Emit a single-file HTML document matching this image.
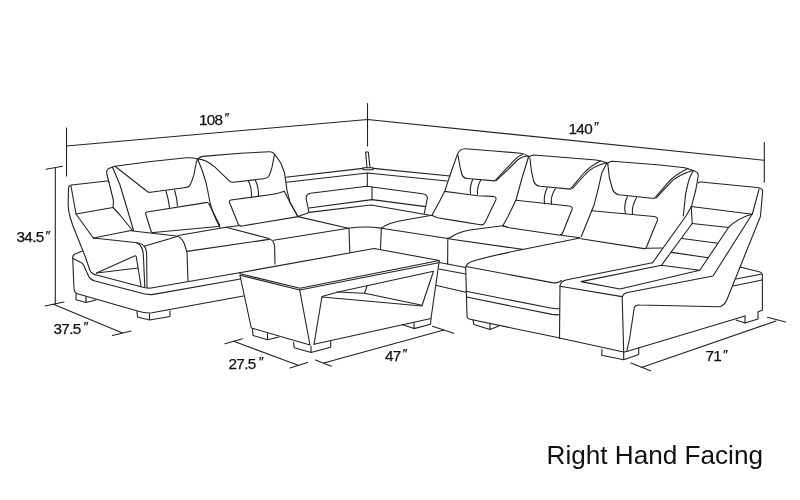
<!DOCTYPE html>
<html><head><meta charset="utf-8">
<style>
html,body{margin:0;padding:0;background:#fff;}
body{width:800px;height:500px;overflow:hidden;position:relative;}
svg{position:absolute;left:0;top:0;display:block;}
text{font-family:"Liberation Sans",sans-serif;fill:#111;stroke:none;}
.d{font-size:15.3px;letter-spacing:-0.65px;stroke:#111;stroke-width:0.25px;}
.p{font-style:italic;font-size:13.5px;}
svg{will-change:transform;}
</style></head><body>
<svg width="800" height="500" viewBox="0 0 800 500">
<rect width="800" height="500" fill="#fff"/>
<g fill="none" stroke="#222" stroke-width="1.1" stroke-linecap="round" stroke-linejoin="round">
<!-- DIMENSIONS -->
<g id="dims">
<path d="M66.5,128 L66.5,176"/>
<path d="M66.5,146 L367.5,119.5 L764.2,160.2"/>
<path d="M367.5,103.5 L367.5,146"/>
<path d="M764.3,142.5 L764.3,182.3"/>
<path d="M55.3,168 L55.3,304"/>
<path d="M46,169.3 L62.5,166.3"/>
<path d="M45,306 L64,302"/>
<path d="M54,304.5 L122.5,333"/>
<path d="M112.5,335.5 L131,331"/>
<path d="M225,343.8 L242.5,338.8"/>
<path d="M233.8,341.3 L298.8,365.5"/>
<path d="M290,368 L307.5,362.5"/>
<path d="M315.5,360 L331.3,366.3"/>
<path d="M323.8,363 L443.8,330"/>
<path d="M432.5,326.3 L453.8,333.3"/>
<path d="M641.4,367.6 L776,321"/>
<path d="M631,363 L650.5,370.7"/>
<path d="M767.5,317.3 L785.5,322"/>
</g>
<!-- LEFT ARM -->
<g id="leftarm">
<path d="M109,182.5 Q108.5,180.8 107,181 L71.5,185 Q68.3,185.5 68.5,188.5 L68.2,205 Q68.3,211 70,216.5 L72.6,225 L85.2,256.5 L90,270.5 Q91.5,274.3 97.5,275.3 L141,286.8 Q148,289 154,287.5 L239.5,272.8"/>
<path d="M71,186 L76,214 L93.4,238.2"/>
<path d="M76,214 L113,207.5"/>
<path d="M93.4,238 L131,230.5"/>
<path d="M93.4,238 L137.5,242.7 Q146,244 146.6,253 L147,287"/>
<path d="M137,243 Q142.5,245.5 143.3,254 L144.8,287"/>
<path d="M131,230.8 L176,236 Q181,236.5 184,243 L187,252 L188,281"/>
<path d="M145,246 L178,236.3"/>
<path d="M96.5,273 L134.5,256 Q136,255.3 136.3,257 L141,286"/>
<path d="M96.5,273 L138,268"/>
<path d="M82.5,251 L75,254 Q72.5,255 72.7,258 L74,289 Q74.2,292 76.5,293.5 L137.5,311 Q146,313.5 152,312.8 L243.5,296"/>
<path d="M73,258.5 L81,262.5 Q83,263.5 84,266 L88.5,276 Q90,279.5 95,281 L138,292.3 Q146,294.8 152,294.6 L240.5,279"/>
<path d="M76,294 L76,299.8 L86,302.5 L96,300 M86,296.5 L86,302.5"/>
<path d="M137,311.5 L137.5,317 L149.5,320 L170,316.5 L170,311 M149.5,314 L149.5,320"/>
</g>
<!-- BACKREST 1 -->
<g id="back1">
<path d="M132.5,230.5 L120,215 L113,207.5 Q113.8,203 113.3,200 L109,182.5 L106.8,174 Q105.8,169.5 110,168 L115,166.3 Q150,161.2 186.5,157.8 Q193,157.6 197.6,159 L202.6,171.5 L206.4,184 L210.2,203.5 Q213,214 220,227.5"/>
<path d="M112.5,167.3 L120,185 L126,205 L130.5,220 L133.5,230.5"/>
<path d="M115,166.3 L146.3,190.8 Q148,192.6 150.5,192.3 L184,187.8 Q188.5,187.2 190,185.3 Q192.5,180 193.8,175.2 L196.2,163 L197.4,159.2"/>
<path d="M166,191 Q168.5,199 169.5,207.5"/>
<path d="M174.5,190 Q177,198 177.5,206"/>
<path d="M147,212 Q145,212.8 145.8,214.5 L151,231 Q151.5,233 153.5,232.5 L218,226.5 Q220,226 219.5,225 L209,204 Q208,202.3 206,202.6 Z"/>
</g>
<!-- BACKREST 2 -->
<g id="back2">
<path d="M197.8,158.9 Q199.5,157.2 202.6,156.4 L240.4,153.3 L269.3,151.7 Q272.5,151.6 274.4,153.9 L280.7,162.7 L284.5,172.7 L287,190.4 L290,202.5 L296.5,214.3 L298,216.6"/>
<path d="M197.8,158.9 Q206,159.5 215.2,167.3 L229.3,180.8 Q231,182.5 233.5,182.2 L263.5,178.7 Q267.5,178.2 268.7,176.5 Q270.8,172 271.9,167.7 L274.4,155"/>
<path d="M248.4,180.8 Q251.8,188 251.5,197"/>
<path d="M255.3,180 Q258.8,187.5 258.5,196"/>
<path d="M231,200 Q228.8,200.6 229.6,202.7 L238.3,224.3 Q239.3,226.5 242,226 L298,216.6 L289.5,201.4 L284.3,191.3 Q278,193.6 271.7,194.5 L231,200"/>
</g>
<!-- SEATS LEFT -->
<g id="seatsL">
<path d="M178,235.5 L226,227.2"/>
<path d="M187,251.4 L269,239.4"/>
<path d="M226,227.2 L268,238.3 Q274,240 274.6,246 L275,264"/>
<path d="M226,227.2 L240,225.5"/>
<path d="M273.5,240.2 L348.3,228.3"/>
<path d="M298,216.6 L348.3,228.2"/>
<path d="M349,228.4 L349.8,252.5"/>
</g>
<!-- BACK FRAME + SHELF -->
<g id="corner">
<path d="M285.7,177.2 L363,168.4"/>
<path d="M373,168.4 L450,176"/>
<path d="M286.4,182.2 L367.3,173 L447,181"/>
<path d="M367.3,173 L367.3,186.5"/>
<path d="M365.6,152 L367,167.5 M368.3,152 L370,167.5 M365.6,152 L368.3,152"/>
<path d="M363,167.8 L373,167.8 L373,169.8 L363,169.8 Z"/>
<path d="M309,212.4 L306.3,199.5 Q305.3,194.3 310.5,193.3 L367,186.3 L372,187 L422.5,193.7 Q427.8,194.6 427.3,198.5 L424.3,213.3"/>
<path d="M372,187 L372,199.6"/>
<path d="M309,208 L372,199.6 L425.6,206.6"/>
<path d="M298,216.6 L309,212.4 L371,205 L430,215.3"/>
<path d="M348.3,228.2 Q365,225.9 381.3,228.1 Q385,225.5 390,223.5 Q397,221.3 405,220 L432,215.2"/>
<path d="M381.3,228.5 L380.5,249.5"/>
</g>
<!-- BACKREST 3 -->
<g id="back3">
<path d="M432,215.2 L440,200.5 L445,190.4 L451.3,171.5 L457.4,154.4 Q459.5,148.6 465.5,148.7 L500,151.5 L520.6,153.2 Q525.5,153.8 528.5,156.6"/>
<path d="M457.8,154.5 L460.2,167.7 L461.8,174 Q462.8,178 467.5,178.5 L494.8,180.9 L505.5,169.6 L515.6,158.9 Q518.5,156 522.3,154.4"/>
<path d="M496.2,180.6 L508,169.6 L518.1,159.5 Q522,156.5 528.2,155.8"/>
<path d="M472.7,179.5 Q469.5,187 470.5,193.5"/>
<path d="M480.7,180.3 Q476.8,187 477.5,194.3"/>
<path d="M444.5,191.4 L462.8,193.8 L477.9,195.7 L492.5,196.4 Q497.2,196.8 495.8,200 L485,222.5 Q483.6,225.3 480.5,224.8 L456.5,220.9 L437.6,217.7 Q433.5,216.8 432,215.2"/>
<path d="M528.5,157 L522,178 L516,200 L508,216.5 L503,225.6"/>
</g>
<!-- BACKREST 4 -->
<g id="back4">
<path d="M529,157.5 Q530.5,155 534,155 L596,160 Q603,160.8 607,163"/>
<path d="M530,158.5 L531.3,170.2 L533.5,180.5 Q534.8,185.6 540,186.3 L570.4,189.1 L583,174 Q590,166 600.5,161"/>
<path d="M572.5,188.5 L585.5,174 Q593,166 606.5,162.7"/>
<path d="M547.1,188 Q543.3,196 544.6,203.6"/>
<path d="M555.3,188.8 Q550.2,197 551.5,204.2"/>
<path d="M516,200.2 L569,206 Q573,206.5 572,209.5 L563,232 Q562,235.5 558.5,235 L509,227.8 Q505,227 503,225.6"/>
<path d="M607,162.8 L601.9,172.7 L598.1,189.1 L594.3,204.2 L588,220 L581.3,236.5"/>
</g>
<!-- BACKREST 5 -->
<g id="back5">
<path d="M607.3,164 Q608.5,161.5 612.5,161.2 L660,165 L684.8,167.7 L694.5,171 Q698.5,172.5 698.3,175.5 L696,189 L691.5,206.3 L686,216 L652.5,262.8"/>
<path d="M693.2,170.8 Q689.5,177 688.2,182.7 L685.6,194.1 L683.3,216"/>
<path d="M607.8,164 L609.4,177.7 L612,187.5 Q613.5,193.8 619,194.8 L654.2,198.5 L668,182.7 Q674,175.5 688.2,168.3"/>
<path d="M656,198 L670.5,182.7 Q677,175.5 693.2,170.3"/>
<path d="M627.3,196.8 Q623.5,205 625.3,213.5"/>
<path d="M636.5,197.7 Q631.5,206 632.5,214"/>
<path d="M591.8,210.8 L654,216.5 Q658.5,217.2 657.3,220.5 L646.5,247 Q646,249 644,248.6 L581,238.8"/>
<path d="M646.5,248.3 L662,248"/>
</g>
<!-- RIGHT ARM -->
<g id="rightarm">
<path d="M698.3,183 Q699,181.8 701,182 L757,187.5 Q762.5,188.3 762.7,191 L760.5,216 L760,217.5 L727,299.5 Q724,306.6 718.5,306.8 L640,305 Q635,304.6 634.2,308 L629.7,338 L626.7,351.5"/>
<path d="M759,189.3 L752.5,213.5 L713,276 L627.5,292.5 Q622.5,293.5 622.2,298 L623.7,352"/>
<path d="M752.3,214 Q737,218.5 728.5,227.5 L699.8,270.3"/>
<path d="M691.2,206.5 L752.3,214.2"/>
<path d="M691.2,206.5 L692.2,223.5 L661.4,265.3 L699.8,270.3 L620,289 L581,281.6 L661.4,265.3"/>
<path d="M692.2,223.5 L728.5,227.5"/>
<path d="M682,238.5 L717.7,243.3"/>
<path d="M671.3,252.4 L708.4,257.7"/>
<path d="M652.5,262.8 L566,280 Q560,281.5 560,286.5 L559.5,338"/>
<path d="M560,286.2 L622,296.6"/>
<path d="M559.5,338 L623.7,352 L626.7,351.5"/>
<path d="M602,349.2 L601.7,355.2 L623.7,359.7 L638.7,354.5 L638.7,348 M623.7,352 L623.7,359.7"/>
<path d="M626.7,351.5 L745,316"/>
<path d="M740,267 L760,272 Q762.3,272.6 762.4,275 L762.4,310 L758,312 L758,319 L745,323 L736,320 M745,316 L745,323"/>
<path d="M736,279 L762,274"/>
<path d="M733,286 L762,280"/>
</g>
<!-- SEATS RIGHT + CHAISE -->
<g id="seatsR">
<path d="M381.5,228.2 L446,238.3 Q449.5,238.8 452,236.5 Q458,232.3 470,230 L502.5,225.8"/>
<path d="M447.8,239.5 L447.6,264"/>
<path d="M448.2,238.7 L522.5,249.4"/>
<path d="M502.5,226 L507,226.8 M561,235.2 L580,237.7"/>
<path d="M580,238 L522.5,249.5 Q490,256 472,261.5 Q466,263.5 465.7,268 L467,316 Q467.2,318.8 470,319.3 L557.5,337.5 L559.5,338"/>
<path d="M466,266.5 L552,282.6 Q556.5,283.3 559,282 L561.5,280.6"/>
<path d="M466,291.3 L552,308.3 Q556,309 559.3,308.5"/>
<path d="M466.5,297 L552,314.4 Q556,315.1 559.3,314.7"/>
<path d="M473,319.8 L473.8,324.5 L490,329.5 L498.8,326 M490,323.8 L490,329.5"/>
<path d="M439.5,262.5 L465.5,267.5"/>
<path d="M439,269 L465.7,274"/>
<path d="M436.5,285.5 L466,292.2"/>
</g>
<!-- TABLE -->
<g id="table">
<path d="M239.5,272.8 L374,248.5 L439.3,260.5 L300,288.3 L240,273.8"/>
<path d="M240,275.2 L299.7,290 L438.7,262.8"/>
<path d="M240,275.5 L251.3,328 L310,345 L299.7,290"/>
<path d="M314,344.3 L322,296.5 L337,292.3 L433.5,271.3 L422,305.5"/>
<path d="M439.3,260.5 L431,318.5 L314,344.3"/>
<path d="M322,297 L422,306"/>
<path d="M337,292 L364,293.3"/>
<path d="M367,286 L364.5,293.3 L421,305"/>
<path d="M252.5,329.5 L253,335.5 L267.5,339.8 L279,337 M267.5,333.8 L267.5,339.8"/>
<path d="M293.5,342.3 L294.3,347.8 L311,352.5 L330.7,347.3 L330.7,341.5 M311,346.2 L311,352.5"/>
<path d="M402,324.5 L414,328.6 L430.5,324.3 L431,318.7 M414,322.5 L414,328.6"/>
</g>
</g>
<text class="d" x="16.5" y="242.3">34.5<tspan class="p" dx="1.4" dy="-2.6">″</tspan></text>
<text class="d" x="198.9" y="124.8">108<tspan class="p" dx="1.4" dy="-2.6">″</tspan></text>
<text class="d" x="568.5" y="133.7">140<tspan class="p" dx="1.4" dy="-2.6">″</tspan></text>
<text class="d" x="53.5" y="334">37.5<tspan class="p" dx="2.4" dy="-2.6">″</tspan></text>
<text class="d" x="228.5" y="369">27.5<tspan class="p" dx="2.6" dy="-2.6">″</tspan></text>
<text class="d" x="385" y="360.5">47<tspan class="p" dx="1.4" dy="-2.6">″</tspan></text>
<text class="d" x="705.5" y="361.3">71<tspan class="p" dx="1.4" dy="-2.6">″</tspan></text>
<text x="546.5" y="463.5" style="font-size:26.15px">Right Hand Facing</text>
</svg>
</body></html>
